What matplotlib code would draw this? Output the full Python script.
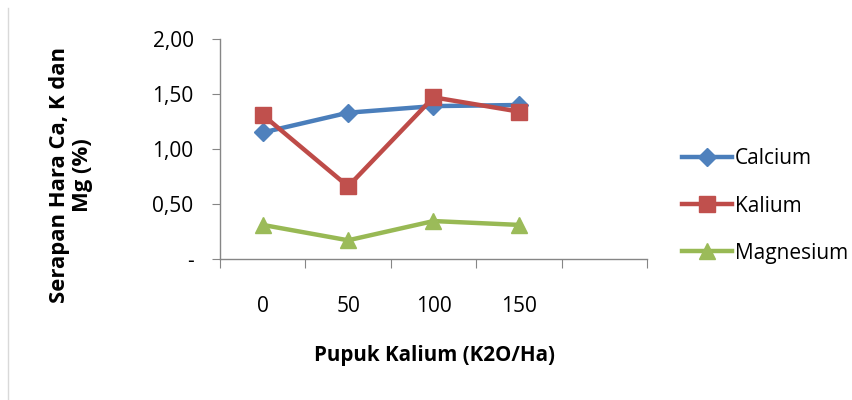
import numpy as np
import matplotlib.pyplot as plt
from matplotlib.lines import Line2D

plt.rcParams['font.family'] = ['Open Sans', 'DejaVu Sans']

# Data
categories = ['0', '50', '100', '150', '']
calcium = [1.15, 1.33, 1.39, 1.40]
kalium = [1.31, 0.66, 1.47, 1.34]
magnesium = [0.31, 0.17, 0.345, 0.31]
y_ticks = [0, 0.5, 1.0, 1.5, 2.0]
y_labels = ['-', '0,50', '1,00', '1,50', '2,00']

fig = plt.figure(figsize=(8.52, 4.0), dpi=100)
ax = fig.add_axes([220/852, 1 - 259/400, 427/852, 220/400])

x = np.arange(len(calcium)) + 0.5
ax.plot(x, calcium, color='#4A7EBB', lw=3.2, marker='D', ms=9.5,
        mfc='#4F81BD', mec='#4F81BD', label='Calcium')
ax.plot(x, kalium, color='#BE4B48', lw=3.2, marker='s', ms=11,
        mfc='#C0504D', mec='#C0504D', label='Kalium')
ax.plot(x, magnesium, color='#98B954', lw=3.2, marker='^', ms=12,
        mfc='#9BBB59', mec='#9BBB59', label='Magnesium')

ax.set_xlim(0, len(categories))
ax.set_ylim(0, 2.0)

# category boundaries as tick marks, labels at centers
ax.set_xticks(np.arange(len(categories) + 1))
ax.set_xticklabels([])
ax.set_xticks(np.arange(len(categories)) + 0.5, minor=True)
ax.set_xticklabels(categories, minor=True)
ax.tick_params(axis='x', which='major', length=6.5, color='#868686', direction='out')
ax.tick_params(axis='x', which='minor', length=0, pad=27, labelsize=15)

ax.set_yticks(y_ticks)
ax.set_yticklabels(y_labels)
ax.tick_params(axis='y', length=6, color='#868686', pad=13, labelsize=15)

for s in ['top', 'right']:
    ax.spines[s].set_visible(False)
for s in ['left', 'bottom']:
    ax.spines[s].set_color('#868686')
    ax.spines[s].set_linewidth(1.0)

fig.text(435/852, 1 - 355/400, 'Pupuk Kalium (K2O/Ha)', ha='center', va='center',
         fontsize=14.8, fontweight='bold')
fig.text(71/852, 1 - 175/400, 'Serapan Hara Ca, K dan\nMg (%)', ha='center', va='center',
         rotation=90, fontsize=15.8, fontweight='bold', multialignment='center',
         linespacing=1.15)

ax.legend(loc='center left', bbox_to_anchor=(682/852, 1 - 206/400),
          bbox_transform=fig.transFigure, frameon=False, fontsize=15,
          handlelength=2.4, handletextpad=0.15, labelspacing=1.25, borderaxespad=0,
          borderpad=0)

# light border line at left of chart area
fig.add_artist(Line2D([8/852, 8/852], [0, 1 - 8/400], transform=fig.transFigure,
                      color='#d9d9d9', lw=1))

fig.savefig('out.png', dpi=100)
